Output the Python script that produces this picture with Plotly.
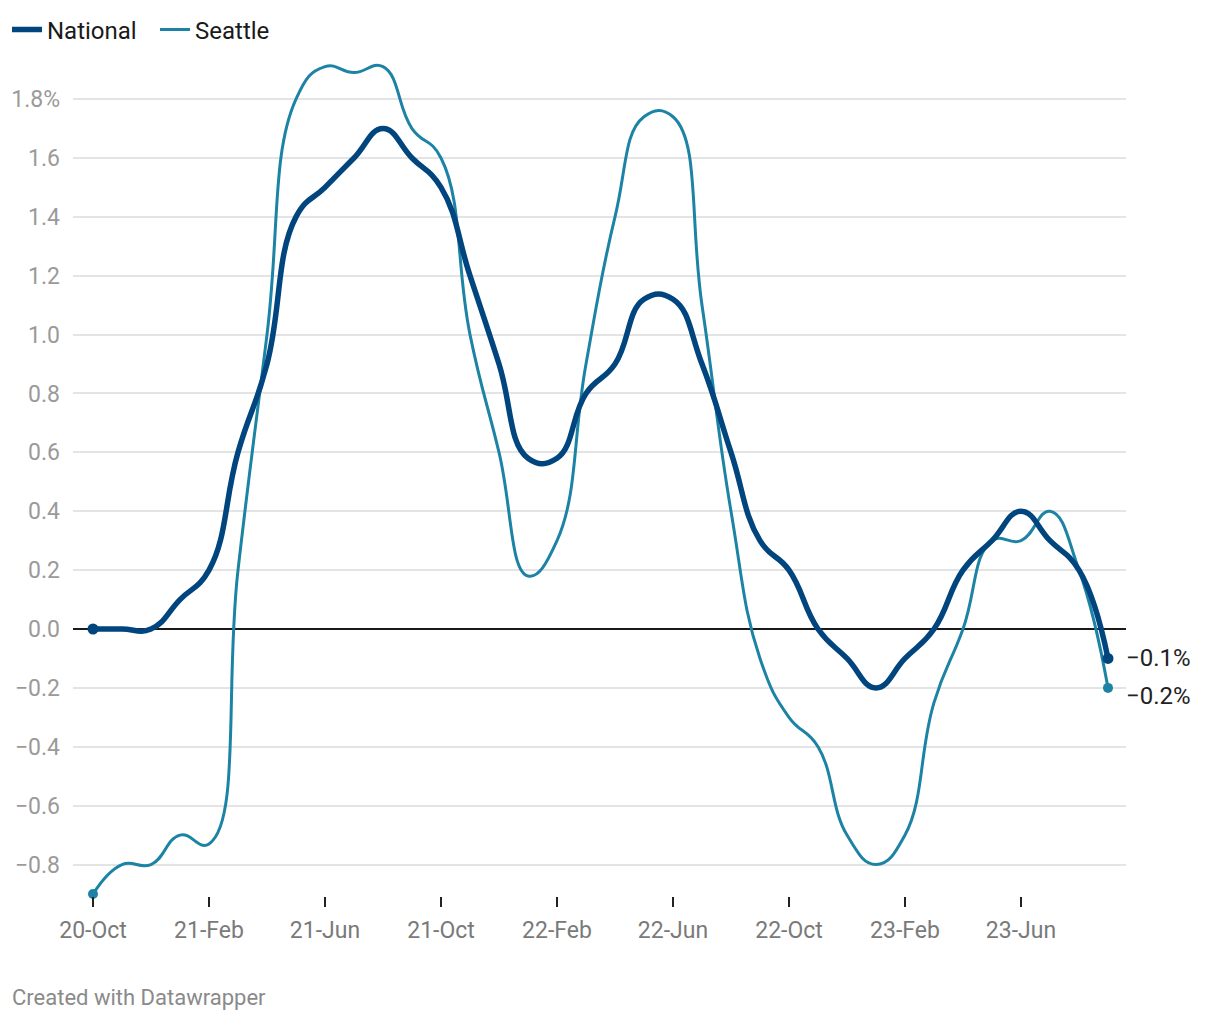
import plotly.graph_objects as go

months = ["2020-10", "2020-11", "2020-12",
          "2021-01", "2021-02", "2021-03", "2021-04", "2021-05", "2021-06",
          "2021-07", "2021-08", "2021-09", "2021-10", "2021-11", "2021-12",
          "2022-01", "2022-02", "2022-03", "2022-04", "2022-05", "2022-06",
          "2022-07", "2022-08", "2022-09", "2022-10", "2022-11", "2022-12",
          "2023-01", "2023-02", "2023-03", "2023-04", "2023-05", "2023-06",
          "2023-07", "2023-08", "2023-09"]

national = [0.0, 0.0, 0.0, 0.1, 0.2, 0.6, 0.9, 1.4, 1.5, 1.6, 1.7, 1.6,
            1.5, 1.2, 0.9, 0.58, 0.58, 0.8, 0.9, 1.12, 1.12, 0.9, 0.6, 0.3,
            0.2, 0.0, -0.1, -0.2, -0.1, 0.0, 0.2, 0.3, 0.4, 0.3, 0.2, -0.1]

seattle = [-0.9, -0.8, -0.8, -0.7, -0.73, 0.2, 1.0, 1.8, 1.91, 1.89, 1.91, 1.7,
           1.6, 1.0, 0.6, 0.18, 0.3, 0.9, 1.4, 1.74, 1.74, 1.1, 0.4, -0.1,
           -0.3, -0.4, -0.7, -0.8, -0.7, -0.25, 0.0, 0.3, 0.3, 0.4, 0.2, -0.2]

tick_months = ["2020-10", "2021-02", "2021-06", "2021-10", "2022-02",
               "2022-06", "2022-10", "2023-02", "2023-06"]
tick_labels = ["20-Oct", "21-Feb", "21-Jun", "21-Oct", "22-Feb",
               "22-Jun", "22-Oct", "23-Feb", "23-Jun"]

y_ticks = [-0.8, -0.6, -0.4, -0.2, 0.0, 0.2, 0.4, 0.6, 0.8, 1.0, 1.2, 1.4, 1.6, 1.8]
y_tick_labels = ["\u22120.8", "\u22120.6", "\u22120.4", "\u22120.2", "0.0", "0.2", "0.4",
                 "0.6", "0.8", "1.0", "1.2", "1.4", "1.6", "1.8%"]

end_labels = ["\u22120.1%", "\u22120.2%"]

NAT_C = "#00457e"
SEA_C = "#1c83a4"
FONT = "Roboto"
SMOOTH = 1.3

fig = go.Figure()

fig.add_trace(go.Scatter(x=months, y=seattle, name="Seattle", mode="lines",
                         line=dict(color=SEA_C, width=3, shape="spline", smoothing=SMOOTH)))
fig.add_trace(go.Scatter(x=months, y=national, name="National", mode="lines",
                         line=dict(color=NAT_C, width=5.5, shape="spline", smoothing=SMOOTH)))

# end point markers
fig.add_trace(go.Scatter(x=[months[0], months[-1]], y=[seattle[0], seattle[-1]],
                         mode="markers", marker=dict(color=SEA_C, size=10),
                         showlegend=False, cliponaxis=False, hoverinfo="skip"))
fig.add_trace(go.Scatter(x=[months[0], months[-1]], y=[national[0], national[-1]],
                         mode="markers", marker=dict(color=NAT_C, size=11),
                         showlegend=False, cliponaxis=False, hoverinfo="skip"))

# plot-area geometry
L, R, T, B = 73, 1126, 55, 896
W = R - L
H = B - T
ppu = 294.4
y_top = (629 - T) / ppu
y_bot = -(B - 629) / ppu
x_left = (L - 93) / 29.0
x_right = (R - 93) / 29.0

fig.update_layout(
    width=1220, height=1020,
    margin=dict(l=L, r=1220 - R, t=T, b=1020 - B, pad=0, autoexpand=False),
    paper_bgcolor="white", plot_bgcolor="white",
    font=dict(family=FONT, size=23, color="#222222"),
    showlegend=True,
    legend=dict(orientation="h", xref="container", yref="container",
                x=7 / 1220, y=1 - 30 / 1020, xanchor="left", yanchor="middle",
                font=dict(size=24, color="#1a1a1a"), traceorder="reversed",
                itemwidth=30, entrywidth=103, entrywidthmode="pixels",
                bgcolor="rgba(0,0,0,0)"),
    xaxis=dict(type="category", categoryorder="array", categoryarray=months,
               range=[x_left, x_right], showgrid=False, zeroline=False,
               showline=False, tickmode="array", tickvals=tick_months,
               ticktext=tick_labels, ticks="outside", ticklen=10, tickwidth=1.5,
               tickcolor="#222222", tickfont=dict(size=23, color="#7a7a7a"),
               ticklabelstandoff=3),
    yaxis=dict(range=[y_bot, y_top], tickmode="array", tickvals=y_ticks,
               ticktext=y_tick_labels, showgrid=True, gridcolor="#e4e4e4",
               gridwidth=1.5, zeroline=True, zerolinecolor="#1a1a1a",
               zerolinewidth=1.8, showline=False, ticks="",
               tickfont=dict(size=23, color="#9a9a9a"), ticklabelstandoff=12),
)

fig.add_annotation(x=months[-1], y=national[-1], text=end_labels[0], showarrow=False,
                   xanchor="left", yanchor="middle", xshift=16,
                   font=dict(size=24, color="#222222"))
fig.add_annotation(x=months[-1], y=seattle[-1], text=end_labels[1], showarrow=False,
                   xanchor="left", yanchor="middle", xshift=16, yshift=-8,
                   font=dict(size=24, color="#222222"))

fig.add_annotation(xref="paper", yref="paper", x=(10 - L) / W, y=(B - 997) / H,
                   text="Created with Datawrapper", showarrow=False,
                   xanchor="left", yanchor="middle",
                   font=dict(size=22, color="#8a8a8a"))

fig.write_html("out.html")
